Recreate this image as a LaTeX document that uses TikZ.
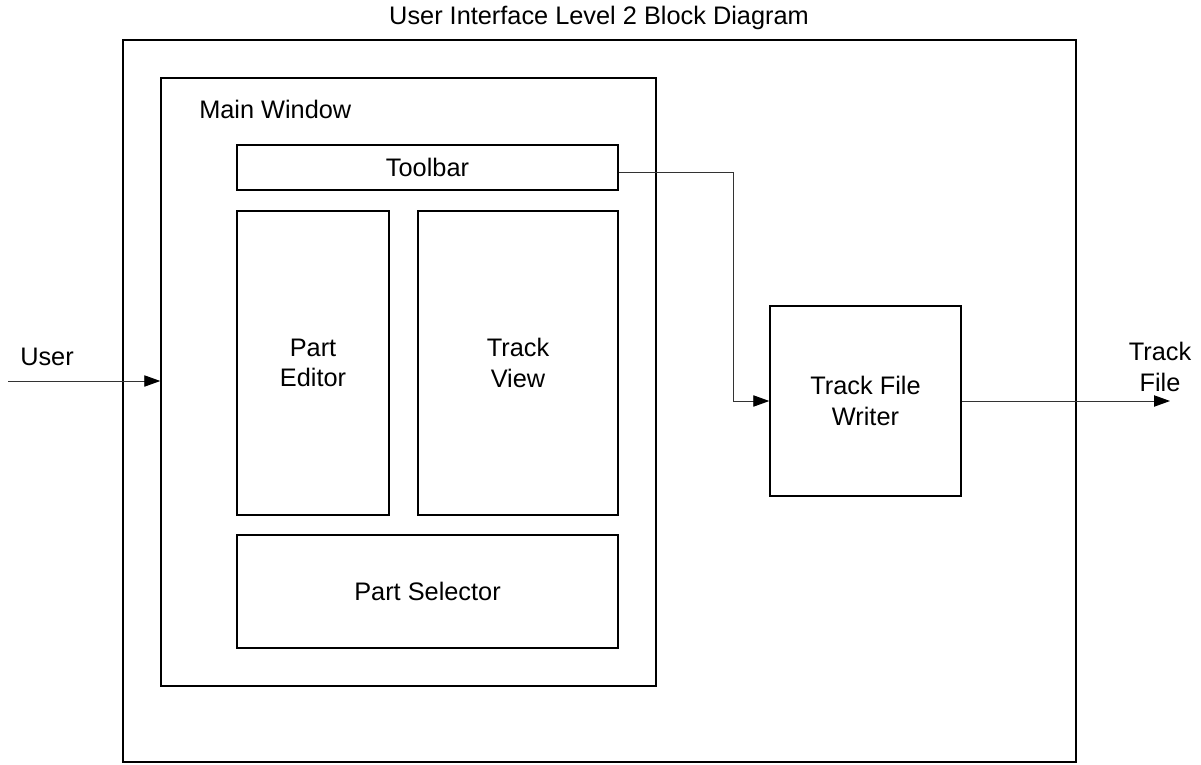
\documentclass[tikz,border=0pt]{standalone}
\usepackage{fontspec}
\setmainfont{Liberation Sans}
\usetikzlibrary{arrows.meta}
\begin{document}
\begin{tikzpicture}[x=0.75pt,y=-0.75pt,
  txt/.style={font=\fontsize{19}{23}\selectfont},
  box/.style={draw=black,line width=1.1pt,inner sep=0pt,align=center,txt},
  lbl/.style={inner sep=0pt,align=center,txt},
  flow/.style={draw=black!80,line width=0.7pt,-{Triangle[length=12pt,width=8.5pt,color=black]}}]
\useasboundingbox (0,0) rectangle (1201,764);

% title
\node[lbl] (title) at (599,18) {User Interface Level 2 Block Diagram};

% enclosing system and main window
\node[box,minimum width=714.75pt,minimum height=541.5pt] (system) at (599.5,401) {};
\node[box,minimum width=371.25pt,minimum height=456pt] (main) at (408.5,382) {};
\node[lbl,anchor=west] (mainlbl) at (199,109) {Main Window};

% main window parts
\node[box,minimum width=285.75pt,minimum height=33.75pt] (toolbar) at (427.5,167.5) {Toolbar};
\node[box,minimum width=114pt,minimum height=228pt] (editor) at (313,363) {Part\\Editor};
\node[box,minimum width=150pt,minimum height=228pt] (view) at (518,363) {Track\\View};
\node[box,minimum width=285.75pt,minimum height=84.75pt] (selector) at (427.5,591.5) {Part Selector};

% writer
\node[box,minimum width=143.25pt,minimum height=142.5pt] (writer) at (865.5,401) {Track File\\Writer};

% external ends
\coordinate (userin) at (8,381);
\coordinate (fileout) at (1170,401);
\coordinate (tbout) at (toolbar.east |- 0,172);
\node[lbl] (userlbl) at (47,357) {User};
\node[lbl] (filelbl) at (1160,367) {Track\\File};

% connectors
\draw[flow] (userin) -- (userin -| main.west);
\draw[flow] (tbout) -- (733,172) -- (733,401) -- (writer.west);
\draw[flow] (writer.east |- fileout) -- (fileout);
\end{tikzpicture}
\end{document}
